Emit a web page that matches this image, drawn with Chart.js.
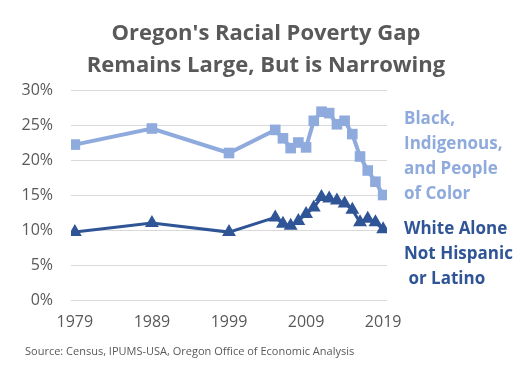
<!DOCTYPE html>
<html>
<head>
<meta charset="utf-8">
<script src="https://cdn.jsdelivr.net/npm/chart.js@4"></script>
<style>
  html, body { margin: 0; padding: 0; background: #ffffff; }
  #wrap { position: relative; width: 528px; height: 373px; overflow: hidden; background: #fff; }
  canvas { position: absolute; left: 0; top: 0; }
  .txt { position: absolute; font-family: "Open Sans", sans-serif; white-space: pre; }
  #title { left: 0; width: 532px; top: 15px; text-align: center; font-size: 22px; font-weight: 700; line-height: 32px; color: #595959; }
  #lab1 { left: 404px; top: 105px; font-size: 17px; font-weight: 700; line-height: 25px; color: #8FAADC; }
  #lab2 { left: 404px; top: 215px; font-size: 17px; font-weight: 700; line-height: 25px; color: #2F5597; }
  #source { left: 25px; top: 343px; font-size: 11px; line-height: 15px; color: #595959; }
</style>
</head>
<body>
<div id="wrap">
  <canvas id="c" width="528" height="373"></canvas>
  <div class="txt" id="title">Oregon's Racial Poverty Gap
Remains Large, But is Narrowing</div>
  <div class="txt" id="lab1">Black,
Indigenous,
and People
of Color</div>
  <div class="txt" id="lab2">White Alone
Not Hispanic
 or Latino</div>
  <div class="txt" id="source">Source: Census, IPUMS-USA, Oregon Office of Economic Analysis</div>
</div>
<script>
const years = [1979, 1989, 1999, 2005, 2006, 2007, 2008, 2009, 2010, 2011, 2012, 2013, 2014, 2015, 2016, 2017, 2018, 2019];
const bipoc = [22.2, 24.5, 21.0, 24.3, 23.1, 21.7, 22.5, 21.8, 25.6, 26.9, 26.7, 25.1, 25.6, 23.7, 20.5, 18.5, 16.9, 15.0];
const white = [9.7, 11.0, 9.7, 11.8, 10.9, 10.6, 11.3, 12.3, 13.2, 14.7, 14.5, 14.2, 13.8, 12.9, 11.1, 11.6, 11.1, 10.1];
const xTickYears = [1979, 1989, 1999, 2009, 2019];
const yTicks = [0, 5, 10, 15, 20, 25, 30];

const toPts = arr => years.map((y, i) => ({ x: y, y: arr[i] }));
const FONT = '"Open Sans", sans-serif';

new Chart(document.getElementById('c'), {
  type: 'line',
  data: {
    datasets: [
      {
        label: 'Black, Indigenous, and People of Color',
        data: toPts(bipoc),
        borderColor: '#8FAADC',
        backgroundColor: '#8FAADC',
        borderWidth: 4,
        pointStyle: 'rect',
        pointRadius: 7.5,
        pointBorderWidth: 0,
        pointBackgroundColor: '#8FAADC',
        tension: 0
      },
      {
        label: 'White Alone Not Hispanic or Latino',
        data: toPts(white),
        borderColor: '#2F5597',
        backgroundColor: '#2F5597',
        borderWidth: 3,
        pointStyle: 'triangle',
        pointRadius: 8,
        pointBorderWidth: 0,
        pointBackgroundColor: '#2F5597',
        tension: 0
      }
    ]
  },
  options: {
    responsive: false,
    animation: false,
    events: [],
    layout: { padding: { top: 90, right: 141, left: 0, bottom: 33 } },
    plugins: { legend: { display: false }, title: { display: false }, tooltip: { enabled: false } },
    scales: {
      x: {
        type: 'linear',
        min: 1978.5,
        max: 2019.5,
        afterBuildTicks: s => { s.ticks = xTickYears.map(v => ({ value: v })); },
        afterFit: s => { s.height = 40; },
        grid: { display: false, drawTicks: false },
        border: { display: false },
        ticks: {
          autoSkip: false,
          maxRotation: 0,
          padding: 13,
          color: '#595959',
          font: { family: FONT, size: 16 },
          callback: v => String(v)
        }
      },
      y: {
        min: 0,
        max: 30,
        afterBuildTicks: s => { s.ticks = yTicks.map(v => ({ value: v })); },
        afterFit: s => { s.width = 71; },
        grid: { color: '#D9D9D9', lineWidth: 1, drawTicks: false, tickLength: 0 },
        border: { display: false },
        ticks: {
          padding: 18,
          color: '#595959',
          font: { family: FONT, size: 16 },
          callback: v => v + '%'
        }
      }
    }
  }
});
</script>
</body>
</html>
